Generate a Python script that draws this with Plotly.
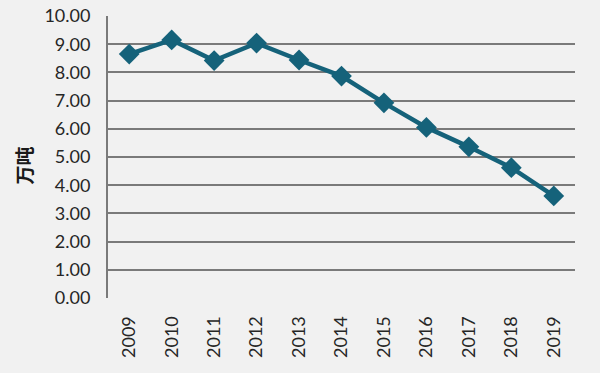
import plotly.graph_objects as go

years = ["2009", "2010", "2011", "2012", "2013", "2014", "2015", "2016", "2017", "2018", "2019"]
values = [8.65, 9.15, 8.42, 9.04, 8.44, 7.87, 6.92, 6.05, 5.36, 4.62, 3.62]
y_ticks = [0, 1, 2, 3, 4, 5, 6, 7, 8, 9, 10]
y_title = "万吨"

fig = go.Figure()
fig.add_trace(go.Scatter(
    x=years, y=values, mode="lines+markers",
    line=dict(color="#15627a", width=4.5),
    marker=dict(symbol="diamond", size=16, color="#15627a"),
    showlegend=False,
))

fig.add_annotation(
    text="<b>" + y_title + "</b>", textangle=-90,
    xref="paper", yref="paper", x=-0.18, y=0.47,
    showarrow=False, xanchor="center", yanchor="middle",
    font=dict(size=19, color="#1a1a1a", family="Noto Sans CJK SC, sans-serif"),
)

fig.update_layout(
    width=600, height=373,
    margin=dict(l=108, r=25, t=16, b=75, autoexpand=False),
    paper_bgcolor="#f1f1f1",
    plot_bgcolor="rgba(0,0,0,0)",
    font=dict(family="Lato, Open Sans, sans-serif", color="#262626"),
    xaxis=dict(
        type="category", range=[-0.5, 10.5], automargin=False,
        tickangle=-90, tickfont=dict(size=18, color="#262626"),
        showgrid=False, showline=False, zeroline=False,
        ticks="outside", ticklen=10, tickcolor="rgba(0,0,0,0)",
    ),
    yaxis=dict(
        range=[0, 10], tickvals=y_ticks, automargin=False,
        tickformat=".2f", tickfont=dict(size=18, color="#262626"),
        showgrid=True, gridcolor="#7a7a7a", gridwidth=2,
        showline=True, linecolor="#7a7a7a", linewidth=2,
        zeroline=False, ticks="outside", ticklen=12, tickcolor="rgba(0,0,0,0)",
    ),
)

fig.write_html("out.html", config={"displayModeBar": False},
               post_script="document.body.style.margin='0';")
